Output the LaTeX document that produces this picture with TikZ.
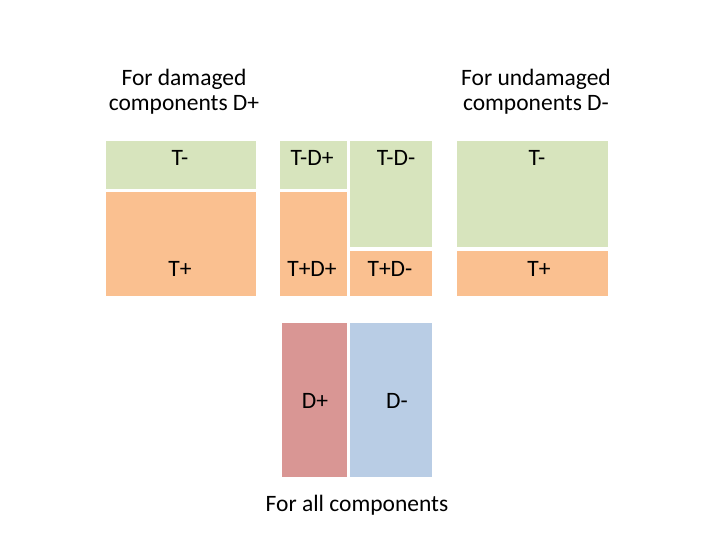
\documentclass[tikz,border=0pt]{standalone}
\usepackage{fontspec}
\setmainfont{Carlito}
\usepackage{tikz}

\definecolor{tgreen}{RGB}{215,228,189}
\definecolor{torange}{RGB}{250,192,144}
\definecolor{dred}{RGB}{217,150,148}
\definecolor{dblue}{RGB}{185,205,229}

\begin{document}
\begin{tikzpicture}[x=1pt, y=-1pt,
  cell/.style={anchor=north west, inner sep=0pt, outer sep=0pt},
  lbl/.style={anchor=base, inner sep=0pt, font=\fontsize{23.5}{25}\selectfont},
  head/.style={lbl, anchor=center, align=center}]
  \useasboundingbox[fill=white] (0,0) rectangle (720,540);

  % Damaged components (left column)
  \node[cell, fill=tgreen, minimum width=150pt, minimum height=48pt] (dmgneg) at (106,141) {};
  \node[cell, fill=torange, minimum width=150pt, minimum height=104pt] (dmgpos) at (106,192) {};
  \node[lbl] (dmgneglbl) at (180,166) {T-};
  \node[lbl] (dmgposlbl) at (180,276) {T+};

  % Joint split, damaged part
  \node[cell, fill=tgreen, minimum width=67pt, minimum height=48pt] (tndp) at (280,141) {};
  \node[cell, fill=torange, minimum width=67pt, minimum height=104pt] (tpdp) at (280,192) {};
  \node[lbl] (tndplbl) at (312,166) {T-D+};
  \node[lbl] (tpdplbl) at (312,276) {T+D+};

  % Joint split, undamaged part
  \node[cell, fill=tgreen, minimum width=82pt, minimum height=106pt] (tndn) at (350,141) {};
  \node[cell, fill=torange, minimum width=82pt, minimum height=45pt] (tpdn) at (350,251) {};
  \node[lbl] (tndnlbl) at (396,166) {T-D-};
  \node[lbl] (tpdnlbl) at (390,276) {T+D-};

  % Undamaged components (right column)
  \node[cell, fill=tgreen, minimum width=151pt, minimum height=106pt] (udneg) at (457,141) {};
  \node[cell, fill=torange, minimum width=151pt, minimum height=45pt] (udpos) at (457,251) {};
  \node[lbl] (udneglbl) at (537,166) {T-};
  \node[lbl] (udposlbl) at (539,276) {T+};

  % All components
  \node[cell, fill=dred, minimum width=65pt, minimum height=154pt] (dpos) at (282,323) {};
  \node[cell, fill=dblue, minimum width=82pt, minimum height=154pt] (dneg) at (350,323) {};
  \node[lbl] (dposlbl) at (315,408) {D+};
  \node[lbl] (dneglbl) at (397,408) {D-};

  % Headings
  \node[head] (dmghead) at (184,92) {For damaged\\components D+};
  \node[head] (udhead) at (536,92) {For undamaged\\components D-};
  \node[lbl] (allhead) at (357,511) {For all components};
\end{tikzpicture}
\end{document}
